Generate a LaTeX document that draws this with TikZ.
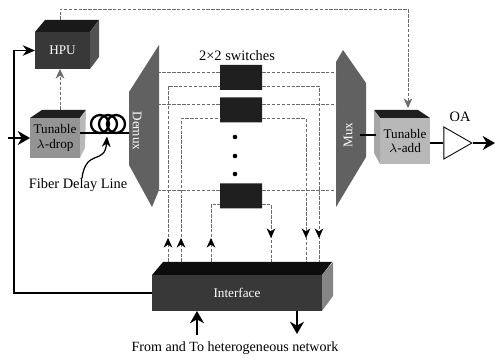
\documentclass[tikz,border=0pt]{standalone}
\usepackage{fontspec}
\setmainfont{Liberation Serif}
\usetikzlibrary{arrows.meta,calc,decorations.markings,shapes.geometric,shapes.misc}

\definecolor{ctrlgray}{gray}{0.42}
\tikzset{
  frontbox/.style={rectangle, inner sep=0pt, outer sep=0pt, align=center, font=\fontsize{7.5}{8.5}\selectfont},
  label8/.style={inner sep=0pt, font=\fontsize{8.2}{10}\selectfont},
  switchbox/.style={chamfered rectangle, chamfered rectangle corners={north west,south east},
    chamfered rectangle xsep=.14cm, chamfered rectangle ysep=.09cm,
    fill=black!88, minimum width=.84cm, minimum height=.5cm, inner sep=0pt, outer sep=0pt},
  ctrl/.style={ctrlgray, line width=.5pt, dash pattern=on 2pt off .8pt},
  ctrlup/.style={ctrl, postaction={decorate}, decoration={markings,
    mark=at position .48cm with {\arrow[black,solid]{Stealth[length=5.5pt,width=5pt]}}}},
  ctrldown/.style={ctrl, postaction={decorate}, decoration={markings,
    mark=at position -.48cm with {\arrow[black,solid]{Stealth[length=5.5pt,width=5pt]}}}},
  signal/.style={line width=.7pt},
  bigarrow/.style={line width=1.2pt, -{Stealth[length=7pt,width=8pt]}},
  coil/.style={circle, draw, line width=1.3pt, minimum size=.36cm, inner sep=0pt},
  dotmark/.style={circle, fill, minimum size=2.6pt, inner sep=0pt},
}

\begin{document}
\begin{tikzpicture}
  \useasboundingbox (0,0) rectangle (9.9,7.16);

  % ports that sit on drawn faces
  \coordinate (dmxr) at (3.18,0);
  \coordinate (muxl) at (6.72,0);
  \coordinate (fbk) at (.28,0);
  \coordinate (hputop) at (1.2,6.76);
  \coordinate (droptop) at (1.2,4.96);
  \coordinate (addtop) at (8.16,5);
  \coordinate (in) at (.16,4.40);
  \coordinate (fibend) at (2.58,4.5);
  \coordinate (fibtip) at (2.14,4.43);
  \coordinate (muxr) at (7.2,4.46);
  \coordinate (addl) at (7.52,4.46);
  \coordinate (outend) at (9.9,4.30);
  \coordinate (netin) at (3.94,.46);
  \coordinate (netout) at (5.94,.48);
  \coordinate (p1) at (3.36,1.92);
  \coordinate (p2) at (3.62,1.92);
  \coordinate (p3) at (4.22,1.92);
  \coordinate (p4) at (5.42,1.92);
  \coordinate (p5) at (6.12,1.92);
  \coordinate (p6) at (6.38,1.92);

  % demux and mux
  \fill[black!62] (3.18,6.26) -- (2.58,5.32) -- (2.58,3.86) -- (3.04,3.02) -- (3.18,3.36) -- cycle;
  \fill[black!62] (6.86,6.16) -- (7.32,5.5) -- (7.32,4.02) -- (6.72,3.02) -- (6.72,5.92) -- cycle;
  \node[frontbox, text=white, rotate=-90] (dmx) at (2.74,4.54) {Demux};
  \node[frontbox, text=white, rotate=90] (mux) at (6.96,4.46) {Mux};

  % hpu, drop, add and interface
  \node[frontbox, fill=black!78, text=white, minimum width=1.1cm, minimum height=.74cm] (hpu) at (1.25,6.15) {HPU};
  \fill[black!90] (hpu.north west) -- ++(.2,.24) -- ++(1.08,0) -- (hpu.north east) -- cycle;
  \fill[black!68] (hpu.north east) -- ++(.18,.24) -- ++(0,-.74) -- (hpu.south east) -- cycle;

  \node[frontbox, fill=black!42, minimum width=1cm, minimum height=.8cm] (drop) at (1.1,4.4) {Tunable\\$\lambda$-drop};
  \fill[black!88] (drop.north west) -- ++(.24,.16) -- ++(.88,0) -- (drop.north east) -- cycle;
  \fill[black!28] (drop.north east) -- ++(.12,.16) -- ++(-.02,-.76) -- (drop.south east) -- cycle;

  \node[frontbox, fill=black!28, minimum width=1cm, minimum height=.92cm] (add) at (8.1,4.34) {Tunable\\$\lambda$-add};
  \fill[black!88] (add.north west) -- ++(-.12,.16) -- ++(.88,0) -- (add.north east) -- cycle;
  \fill[black!35] (add.north west) -- ++(-.12,.16) -- ++(0,-.86) -- (add.south west) -- cycle;

  \node[frontbox, fill=black!78, text=white, minimum width=3.4cm, minimum height=.72cm] (intf) at (4.74,1.3) {Interface};
  \fill[black!95] (intf.north west) -- ++(.22,.26) -- ++(3.38,0) -- (intf.north east) -- cycle;
  \fill[black!48] (intf.north east) -- ++(.22,.26) -- ++(0,-.68) -- (intf.south east) -- cycle;

  % switches
  \node[switchbox] (sw1) at (4.82,5.61) {};
  \node[switchbox] (sw2) at (4.82,4.96) {};
  \node[switchbox] (sw3) at (4.82,3.24) {};
  \node[dotmark] (d1) at (4.7,4.42) {};
  \node[dotmark] (d2) at (4.7,4.04) {};
  \node[dotmark] (d3) at (4.7,3.68) {};

  \foreach \s in {sw1,sw2,sw3} {
    \draw[ctrl] ([yshift=.11cm]\s.west) -- ([yshift=.11cm]\s.west -| dmxr);
    \draw[ctrl] ([yshift=.11cm]\s.east) -- ([yshift=.11cm]\s.east -| muxl);
  }
  \draw[ctrlup] (p1) |- ([yshift=-.17cm]sw1.west);
  \draw[ctrlup] (p2) |- ([yshift=-.17cm]sw2.west);
  \draw[ctrlup] (p3) |- ([yshift=-.17cm]sw3.west);
  \draw[ctrldown] ([yshift=-.17cm]sw3.east) -| (p4);
  \draw[ctrldown] ([yshift=-.17cm]sw2.east) -| (p5);
  \draw[ctrldown] ([yshift=-.17cm]sw1.east) -| (p6);

  % control from the hpu
  \draw[ctrl, -{Stealth[length=5.5pt,width=5pt]}] (droptop) -- (droptop |- hpu.south);
  \draw[ctrl, -{Stealth[length=5.5pt,width=5pt]}] (hputop) -- ++(0,.22) -| (addtop);

  % fiber
  \node[coil] (c1) at (2,4.68) {};
  \node[coil] (c2) at (2.16,4.68) {};
  \node[coil] (c3) at (2.32,4.68) {};
  \draw[line width=1.1pt] ([yshift=.1cm]drop.east) -- (fibend);
  \node[label8] (fdl) at (1.56,3.46) {Fiber Delay Line};
  \draw[signal, -{Stealth[length=6pt,width=5pt]}] ([xshift=.08cm]fdl.north) .. controls (1.72,4.2) and (2.1,3.85) .. (fibtip);

  % signal path
  \draw[bigarrow] (in) -- (drop.west);
  \draw[line width=1.1pt] (muxr) -- (addl);
  \draw[signal, -{Stealth[length=7pt,width=6pt]}] (intf.west) -| (fbk |- hpu.west) -- (hpu.west);

  \node[isosceles triangle, isosceles triangle stretches, draw, line width=.5pt, anchor=apex,
    minimum width=.64cm, minimum height=.56cm, inner sep=0pt] (oa) at (9.46,4.3) {};
  \draw[line width=1.1pt] (add.east |- oa.lower side) -- (oa.lower side);
  \draw[bigarrow] (oa.apex) -- (outend);
  \node[label8] (oalabel) at (9.2,4.82) {OA};

  \draw[bigarrow] (netin) -- (netin |- intf.south);
  \draw[bigarrow] (netout |- intf.south) -- (netout);

  \node[label8] (swlabel) at (4.74,6.04) {2×2 switches};
  \node[label8, font=\fontsize{8}{10}\selectfont] (netlabel) at (4.7,.2) {From and To heterogeneous network};
\end{tikzpicture}
\end{document}
